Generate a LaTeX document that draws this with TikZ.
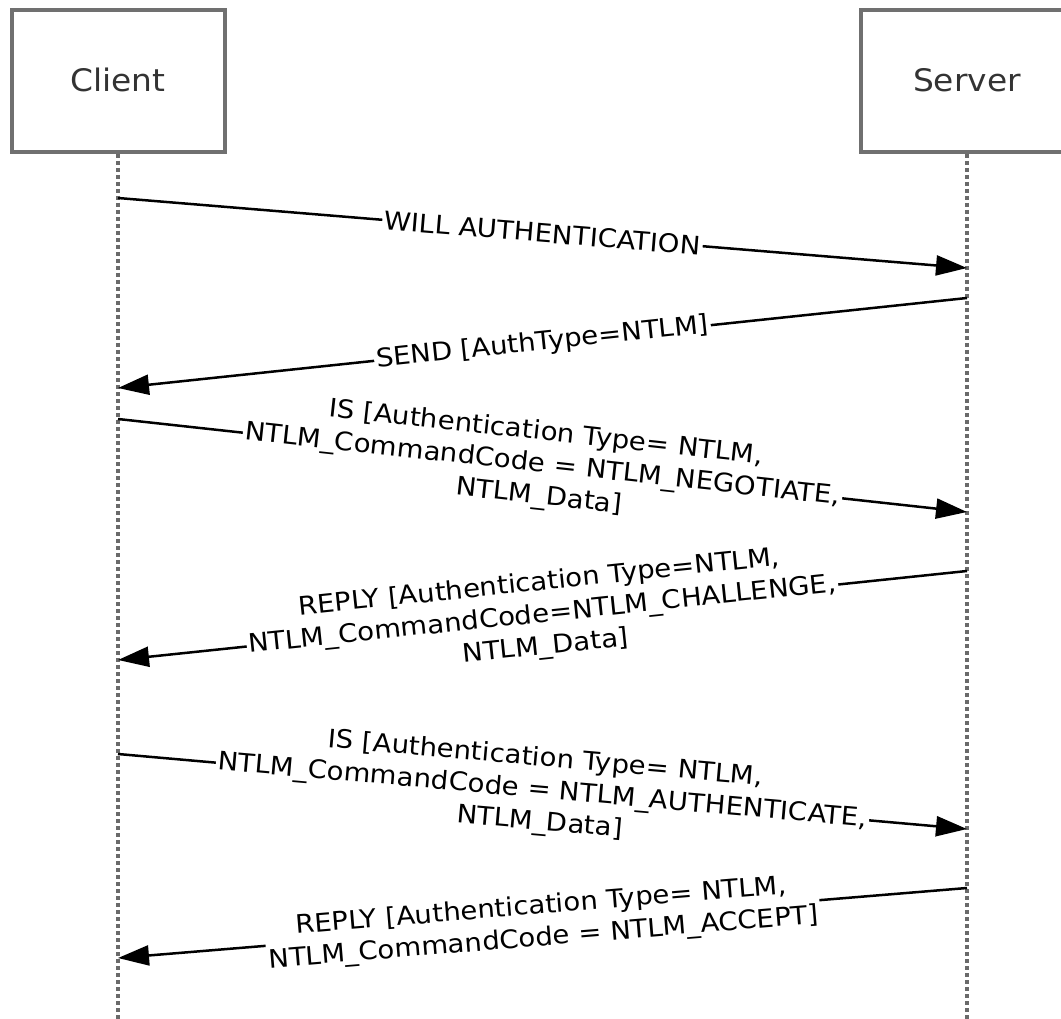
\documentclass[tikz,border=0pt]{standalone}
\usepackage{fontspec}
\setmainfont{DejaVu Sans}
\newfontfamily\lblfont[FakeStretch=1.08]{DejaVu Sans}
\newfontfamily\actfont[FakeStretch=1.06]{DejaVu Sans}
\usetikzlibrary{arrows.meta}
\definecolor{boxgray}{HTML}{707070}
\definecolor{linegray}{HTML}{6A6A6A}
\definecolor{textgray}{HTML}{333333}
\begin{document}
\begin{tikzpicture}[x=1pt,y=-1pt,
  actor/.style={draw=boxgray, line width=4pt, minimum width=213pt, minimum height=142pt,
    inner sep=0pt, font=\actfont\fontsize{31}{37}\selectfont, text=textgray},
  lifeline/.style={draw=linegray, line width=3.5pt, dash pattern=on 4pt off 3pt},
  msg/.style={line width=2.5pt, -{Triangle[length=31pt,width=20pt]}},
  lbl/.style={fill=white, inner sep=2pt, align=center, sloped, pos=0.5,
    font=\lblfont\fontsize{25.5}{32}\selectfont}]
\useasboundingbox (0,0) rectangle (1061,1019);
\clip (0,0) rectangle (1061,1019);
\fill[white] (0,0) rectangle (1061,1019);

% actors
\node[actor] (client) at (118,81) {\raisebox{3pt}{Client}};
\node[actor] (server) at (967,81) {\raisebox{3pt}{Server}};

% lifeline ends
\coordinate (cend) at (118,1019);
\coordinate (send) at (967,1019);
\draw[lifeline] (client.south) -- (cend);
\draw[lifeline] (server.south) -- (send);

% message points
\coordinate (c1) at (118,198); \coordinate (s1) at (967,268);
\coordinate (s2) at (967,298); \coordinate (c2) at (118,388);
\coordinate (c3) at (118,419); \coordinate (s3) at (967,512);
\coordinate (s4) at (967,571); \coordinate (c4) at (118,660);
\coordinate (c5) at (118,754); \coordinate (s5) at (967,829);
\coordinate (s6) at (967,888); \coordinate (c6) at (118,958);

\draw[msg] (c1) -- node[lbl] (m1) {WILL AUTHENTICATION} (s1);
\draw[msg] (s2) -- node[lbl] (m2) {SEND [AuthType=NTLM]} (c2);
\draw[msg] (c3) -- node[lbl] (m3) {IS [Authentication Type= NTLM,\\NTLM\_CommandCode = NTLM\_NEGOTIATE,\\NTLM\_Data]} (s3);
\draw[msg] (s4) -- node[lbl] (m4) {REPLY [Authentication Type=NTLM,\\NTLM\_CommandCode=NTLM\_CHALLENGE,\\NTLM\_Data]} (c4);
\draw[msg] (c5) -- node[lbl] (m5) {IS [Authentication Type= NTLM,\\NTLM\_CommandCode = NTLM\_AUTHENTICATE,\\NTLM\_Data]} (s5);
\draw[msg] (s6) -- node[lbl] (m6) {REPLY [Authentication Type= NTLM,\\NTLM\_CommandCode = NTLM\_ACCEPT]} (c6);
\end{tikzpicture}
\end{document}
